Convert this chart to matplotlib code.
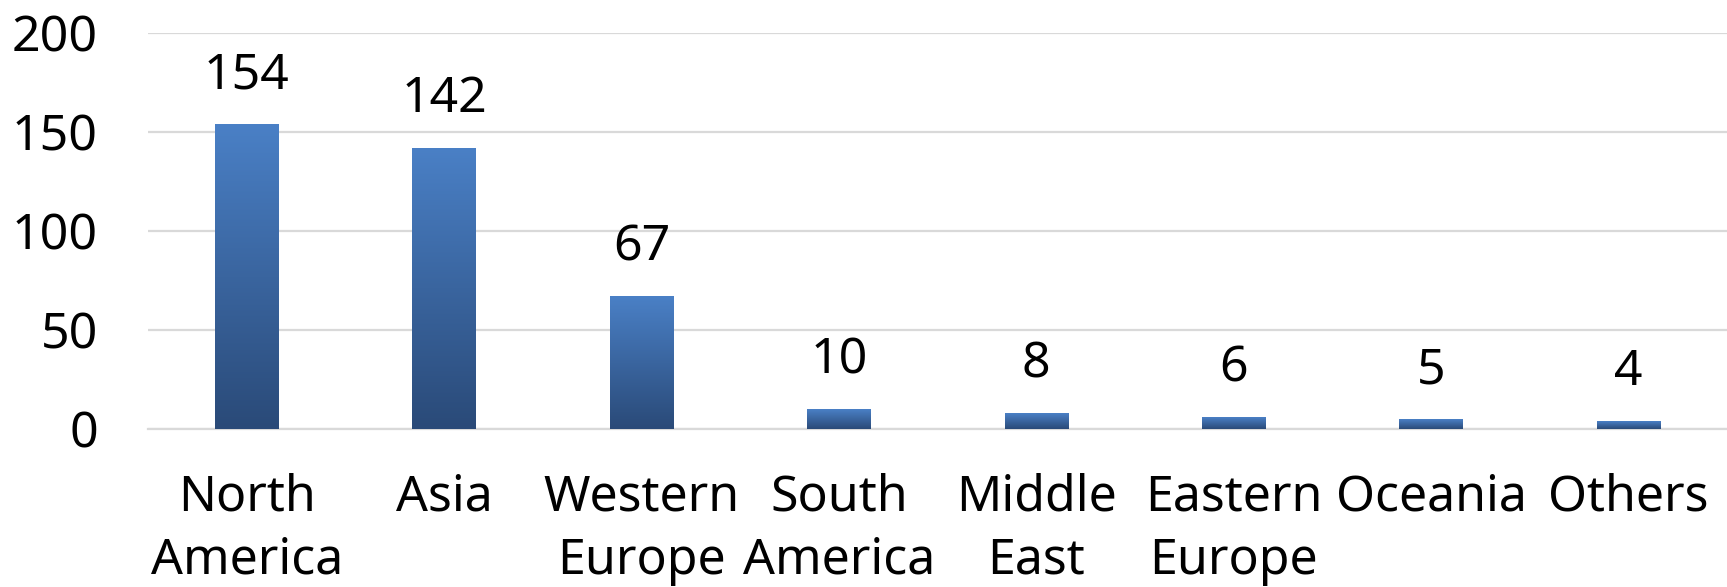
import numpy as np
import matplotlib
matplotlib.use('Agg')
import matplotlib.pyplot as plt
from matplotlib.colors import LinearSegmentedColormap

plt.rcParams['font.family'] = ['Noto Sans', 'DejaVu Sans']

# data
regions = ['North\nAmerica', 'Asia', 'Western\nEurope', 'South\nAmerica',
           'Middle\nEast', 'Eastern\nEurope', 'Oceania', 'Others']
counts = [154, 142, 67, 10, 8, 6, 5, 4]
yticks = [0, 50, 100, 150, 200]

fig = plt.figure(figsize=(17.27, 5.87), dpi=100)
ax = fig.add_axes([0.0857, 0.2692, 0.9143, 0.6746])

x = np.arange(len(regions))
bars = ax.bar(x, counts, width=0.32, color='none', edgecolor='none', zorder=3)

# vertical gradient in each bar, light on top
grad_cmap = LinearSegmentedColormap.from_list('bluegrad', ['#2a4a78', '#4a80c6'])
grad = np.linspace(0, 1, 256).reshape(-1, 1)
for b in bars:
    x0, y0 = b.get_x(), b.get_y()
    w, h = b.get_width(), b.get_height()
    im = ax.imshow(grad, cmap=grad_cmap, origin='lower', aspect='auto',
                   extent=[x0, x0 + w, y0, y0 + h], zorder=3)
    im.set_clip_path(b)

for xi, v in zip(x, counts):
    ax.annotate(str(v), xy=(xi, v), xytext=(0, 17), textcoords='offset points',
                ha='center', va='bottom', fontsize=36)

ax.set_xlim(-0.5, len(regions) - 0.5)
ax.set_ylim(0, 200)
ax.set_yticks(yticks)
ax.set_xticks(x)
ax.set_xticklabels(regions, fontsize=36, linespacing=1.36)
ax.tick_params(axis='y', length=0, pad=36, labelsize=36)
ax.tick_params(axis='x', length=0, pad=31)
ax.grid(axis='y', color='#d9d9d9', linewidth=1.6, zorder=0)
ax.set_axisbelow(True)
for s in ['top', 'right', 'left']:
    ax.spines[s].set_visible(False)
ax.spines['bottom'].set_color('#d9d9d9')
ax.spines['bottom'].set_linewidth(1.6)

fig.savefig('out.png', dpi=100)
